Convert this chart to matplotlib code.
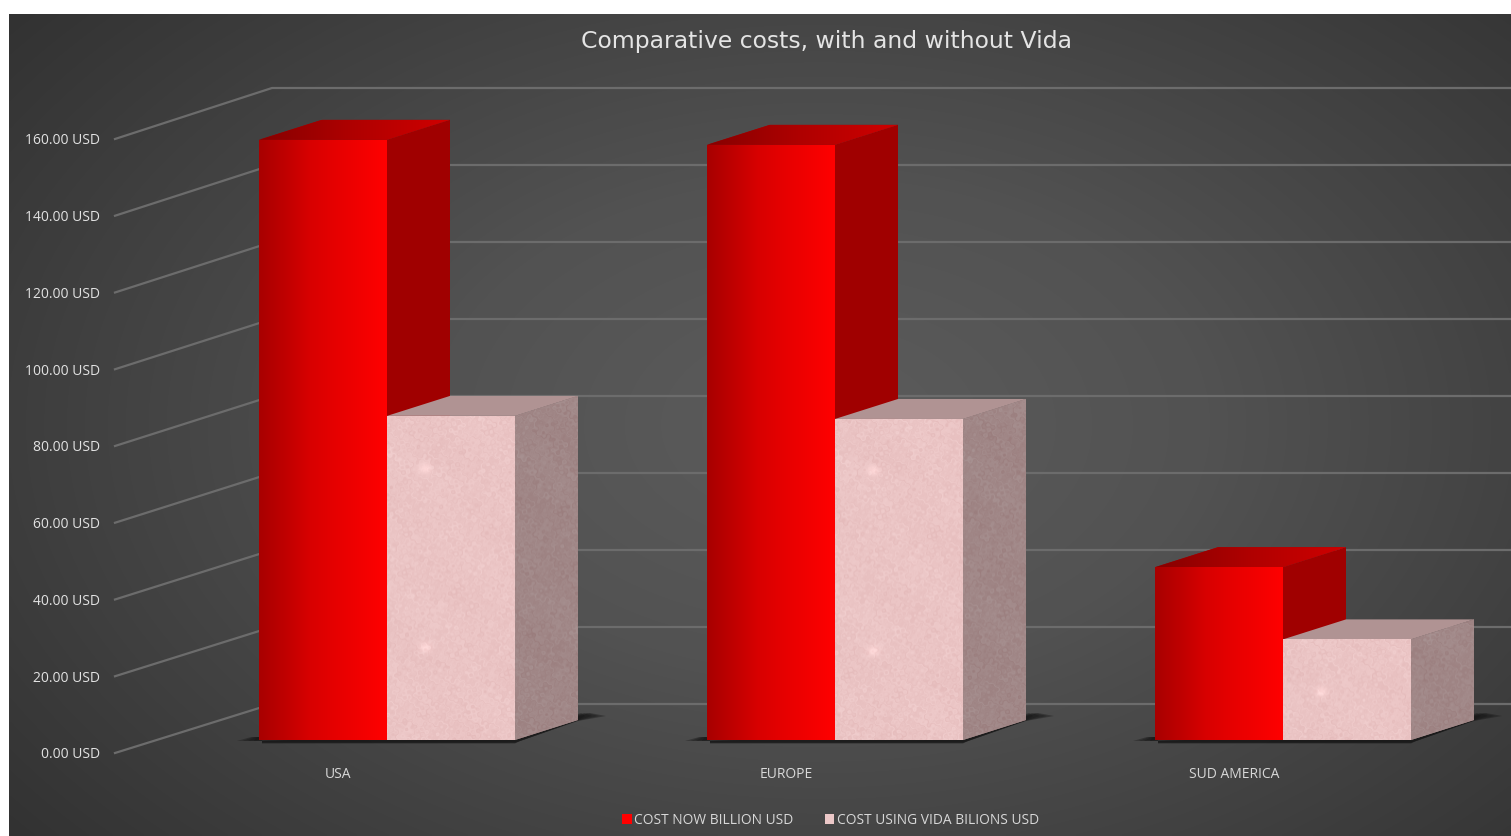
import numpy as np
import matplotlib
matplotlib.use('Agg')
import matplotlib.pyplot as plt
from matplotlib.colors import LinearSegmentedColormap
from matplotlib.patches import Patch, Polygon

# Data
categories = ['USA', 'EUROPE', 'SUD AMERICA']
cost_now = [156.3, 155.0, 45.0]
cost_vida = [84.4, 83.6, 26.2]
y_ticks = [0, 20, 40, 60, 80, 100, 120, 140, 160]
title = 'Comparative costs, with and without Vida'
legend_labels = ['COST NOW BILLION USD', 'COST USING VIDA BILIONS USD']

# px per data unit, used for the fake 3d offsets
PX_X = 448.0
PX_Y = 3.84
BAR_W = 128 / PX_X
DEPTH_X = 63 / PX_X
DEPTH_Y = 20 / PX_Y

plt.rcParams['font.family'] = ['Open Sans', 'DejaVu Sans']

fig = plt.figure(figsize=(15.11, 8.36), dpi=100, facecolor='white')
ax = fig.add_axes([9 / 1511, 0, 1502 / 1511, 822 / 836])
xlim = ((9 - 387) / PX_X, (1511 - 387) / PX_X)
ylim = ((740 - 836) / PX_Y, (740 - 14) / PX_Y)
ax.axis('off')


def px(x_px, y_px):
    return (x_px - 387) / PX_X, (740 - y_px) / PX_Y


# background, radial gradient
gx, gy = np.meshgrid(np.linspace(0, 1, 400), np.linspace(0, 1, 250))
dist = np.sqrt(((gx - 0.54) / 0.62) ** 2 + ((gy - 0.50) / 0.72) ** 2)
bg_cmap = LinearSegmentedColormap.from_list('bg', ['#5c5c5c', '#525252', '#3f3f3f', '#2c2c2c'])
ax.imshow(np.clip(dist / 1.25, 0, 1), cmap=bg_cmap, vmin=0, vmax=1, aspect='auto',
          extent=(xlim[0], xlim[1], ylim[0], ylim[1]), origin='lower', zorder=0,
          interpolation='bilinear')

# walls
grid_col = '#6c6c6c'
for v in y_ticks:
    x0, y0 = px(115, 753 - v * 3.8375)
    x1, y1 = px(272, 704 - v * 3.85)
    x2 = xlim[1]
    ax.plot([x0, x1, x2], [y0, y1, y1], color=grid_col, lw=1.6, zorder=1, solid_joinstyle='miter')
    tx, ty = px(100, 755 - v * 3.8375)
    ax.text(tx, ty, '%.2f USD' % v, color='#e2e2e2', fontsize=10, ha='right', va='center', zorder=5)

red_cmap = LinearSegmentedColormap.from_list('red', ['#a80000', '#bf0000', '#d80000', '#e60000', '#f20000', '#ff0000'])
red_top_cmap = LinearSegmentedColormap.from_list('redtop', ['#860000', '#b00000', '#cf0000'])


def mottled(nrow, ncol, base, seed, specks=()):
    # stone looking texture from a few bent waves, mostly fine grain
    yy, xx = np.mgrid[0:nrow, 0:ncol].astype(float)
    warp_x = xx + 5 * np.sin(yy * 0.31 + seed) + 4 * np.sin(yy * 0.73 + xx * 0.41 + seed * 2.1)
    warp_y = yy + 5 * np.cos(xx * 0.37 + seed * 1.4) + 4 * np.sin(xx * 0.83 - yy * 0.47)
    t = np.zeros((nrow, ncol))
    for f1, f2, ph, amp in [(0.31, 0.17, 0.3, 0.5), (0.13, 0.37, 1.7, 0.6), (0.47, 0.29, 2.9, 0.7),
                            (0.07, 0.05, 4.1, 0.3), (0.71, 0.59, 5.3, 0.6), (0.03, 0.09, 0.9, 0.25)]:
        t += amp * np.sin(f1 * warp_x + f2 * warp_y + ph + seed)
    t = t / np.abs(t).max()
    rgb = np.array(base)[None, None, :] + t[:, :, None] * np.array([0.025, 0.04, 0.04])[None, None, :]
    # the small light flecks of the picture fill
    for sx, sy in specks:
        blob = np.exp(-(((xx - sx) / 6.0) ** 2 + ((yy - sy) / 5.0) ** 2))
        rgb = rgb + blob[:, :, None] * 0.07
    return np.clip(rgb, 0, 1)


def side_and_top(x_left, value, side_col, top_col, zorder):
    x_right = x_left + BAR_W
    side = Polygon([(x_right, 0), (x_right + DEPTH_X, DEPTH_Y), (x_right + DEPTH_X, value + DEPTH_Y), (x_right, value)],
                   closed=True, facecolor=side_col, edgecolor='none', zorder=zorder)
    top = Polygon([(x_left, value), (x_left + DEPTH_X, value + DEPTH_Y), (x_right + DEPTH_X, value + DEPTH_Y), (x_right, value)],
                  closed=True, facecolor=top_col, edgecolor='none', zorder=zorder)
    ax.add_patch(side)
    ax.add_patch(top)
    return side, top


# floor shadows, stacked so the tips fade out
for i in range(len(categories)):
    off = i * PX_X
    for k in [1.0, 0.75, 0.5, 0.25]:
        shadow = [px(259 - 22 * k + off, 741), px(259 - 8 * k + off, 737), px(262 + off, 737), px(262 + off, 742 + 1.5 * k),
                  px(515 + off, 742 + 1.5 * k), px(520 + off, 741), px(578 + off, 720 + k), px(578 + 28 * k + off, 716),
                  px(578 + 12 * k + off, 713), px(510 + off, 735)]
        ax.add_patch(Polygon(shadow, closed=True, facecolor='#161616', edgecolor='none', alpha=0.38, zorder=2))

ramp = np.linspace(0, 1, 256)[None, :]
speck_rows = [[92, 270], [88, 268], [47]]
for i in range(len(categories)):
    # red bar
    x_left = i - BAR_W
    s, t = side_and_top(x_left, cost_now[i], '#a00000', '#b00000', 3)
    im = ax.imshow(ramp, cmap=red_top_cmap, aspect='auto', origin='lower', zorder=3.1,
                   extent=(x_left, x_left + BAR_W + DEPTH_X, cost_now[i], cost_now[i] + DEPTH_Y),
                   interpolation='bilinear')
    im.set_clip_path(t)
    bar = ax.bar(i - BAR_W / 2, cost_now[i], BAR_W, color='#e00000', zorder=3.2)[0]
    im = ax.imshow(ramp, cmap=red_cmap, aspect='auto', origin='lower', zorder=3.3,
                   extent=(x_left, x_left + BAR_W, 0, cost_now[i]), interpolation='bilinear')
    im.set_clip_path(bar)

    # pink bar
    x_left = float(i)
    s, t = side_and_top(x_left, cost_vida[i], '#a38787', '#b09393', 4)
    nrow = int(cost_vida[i] * PX_Y)
    im = ax.imshow(mottled(nrow + 20, 63, (0.63, 0.53, 0.53), i + 7), aspect='auto', origin='lower', zorder=4.1,
                   extent=(x_left + BAR_W, x_left + BAR_W + DEPTH_X, 0, cost_vida[i] + DEPTH_Y),
                   interpolation='bilinear')
    im.set_clip_path(s)
    bar = ax.bar(i + BAR_W / 2, cost_vida[i], BAR_W, color='#ecc8c8', zorder=4.2)[0]
    specks = [(38, row) for row in speck_rows[i]]
    im = ax.imshow(mottled(nrow, 128, (0.92, 0.77, 0.77), i + 1, specks), aspect='auto', origin='lower', zorder=4.3,
                   extent=(x_left, x_left + BAR_W, 0, cost_vida[i]), interpolation='bilinear')
    im.set_clip_path(bar)

    # category label
    lx, ly = px(338 + i * PX_X, 775)
    ax.text(lx, ly, categories[i], color='#d8d8d8', fontsize=10, ha='center', va='center', zorder=5)

tx, ty = px(827, 42)
ax.text(tx, ty, title, color='#e4e4e4', fontsize=16.9, family=['DejaVu Sans'], ha='center', va='center', zorder=5)

handles = [Patch(facecolor='#ff0000', edgecolor='none'), Patch(facecolor='#ecc8c8', edgecolor='none')]
leg = ax.legend(handles, legend_labels, ncols=2, frameon=False, fontsize=9.9, labelcolor='#d8d8d8',
                loc='center', bbox_to_anchor=(830.5 / 1511, 16 / 836), bbox_transform=fig.transFigure,
                handlelength=0.7, handleheight=0.7, handletextpad=0.2, columnspacing=2.25)

ax.set_xlim(xlim)
ax.set_ylim(ylim)
fig.savefig('out.png', dpi=100, facecolor='white')
